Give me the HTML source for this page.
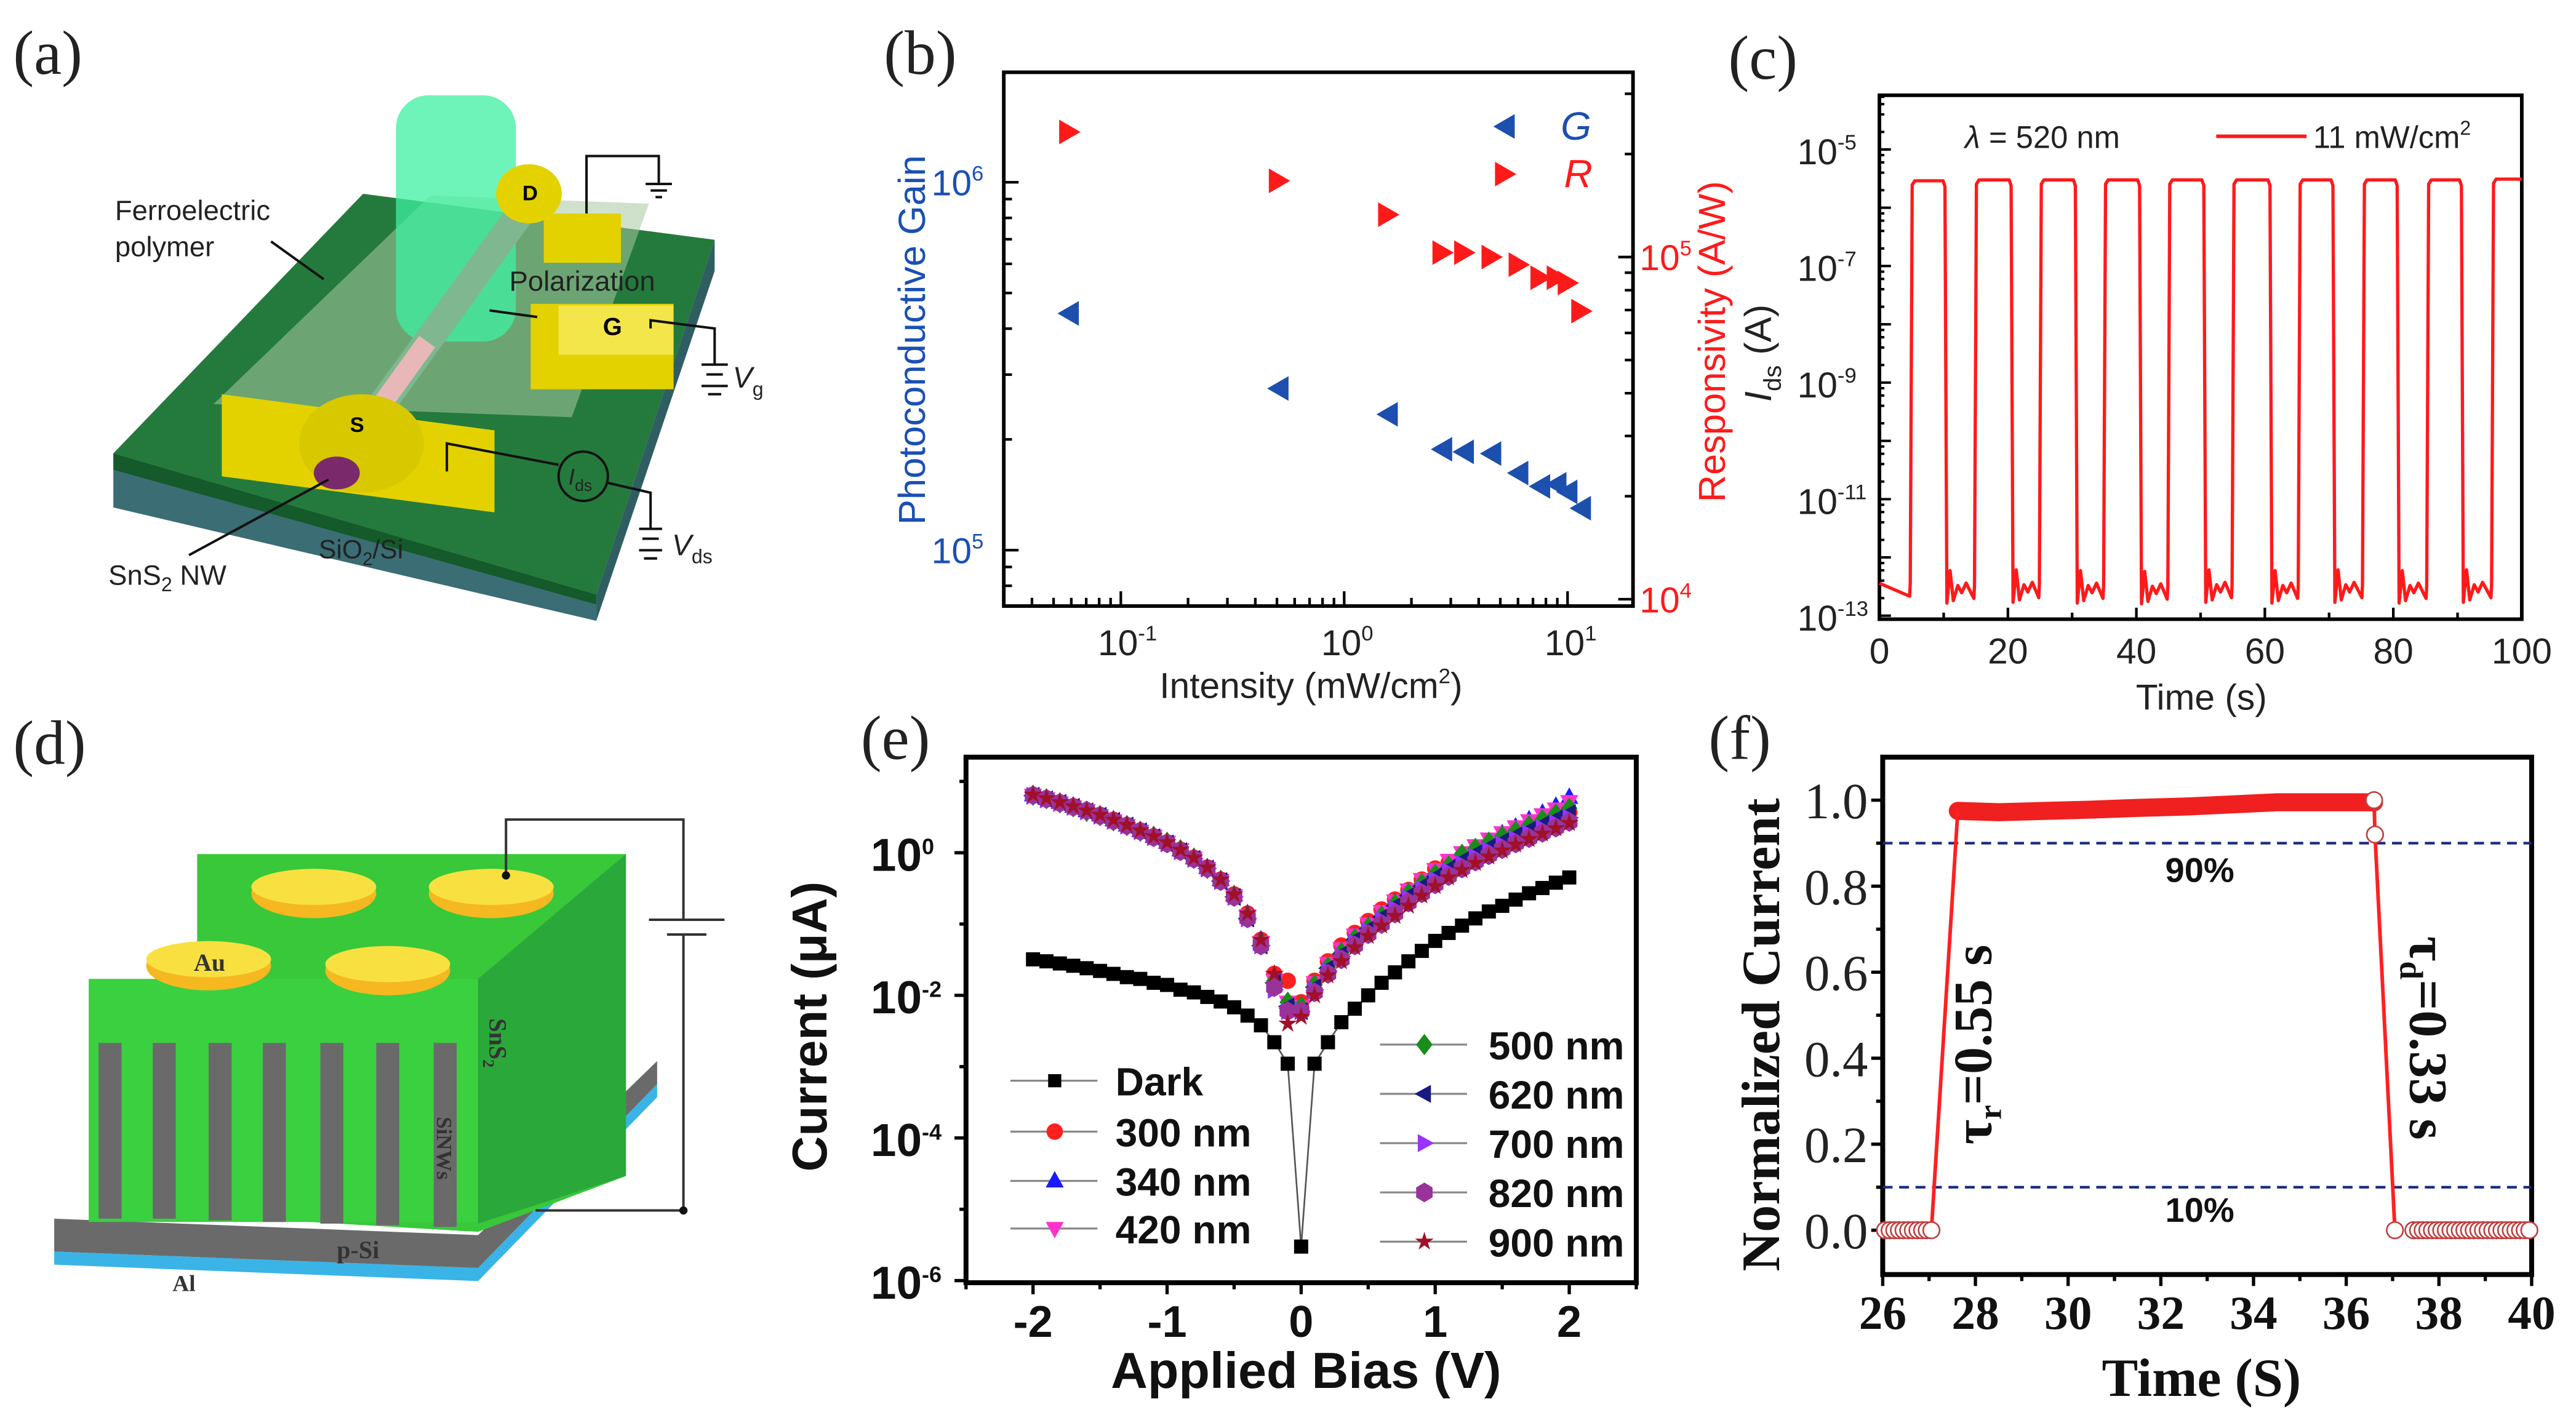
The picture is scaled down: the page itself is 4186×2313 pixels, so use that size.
<!DOCTYPE html>
<html><head><meta charset="utf-8">
<style>
html,body{margin:0;padding:0;background:#fff;}
svg{display:block;}
text{font-family:"Liberation Sans",sans-serif;}
.serif{font-family:"Liberation Serif",serif;}
</style></head>
<body>
<svg id="fig" xmlns="http://www.w3.org/2000/svg" width="4186" height="2313" viewBox="0 0 1568 866.4" preserveAspectRatio="none">
<rect x="0" y="0" width="1568" height="866.4" fill="#fff"/>
<g class="serif" font-size="38" fill="#222">
<text class="serif" x="8" y="45">(a)</text>
<text class="serif" x="538" y="45">(b)</text>
<text class="serif" x="1052" y="48">(c)</text>
<text class="serif" x="8" y="465">(d)</text>
<text class="serif" x="524" y="462">(e)</text>
<text class="serif" x="1040" y="462">(f)</text>
</g>

<g>
<polygon points="69,276 363,362 363,378 69,309" fill="#3a6d74"/>
<polygon points="69,276 363,362 363,368 69,286" fill="#145a2a"/>
<polygon points="363,362 435,146 435,165 363,378" fill="#2f5e62"/>
<polygon points="69,276 221,118 435,146 363,362" fill="#247a3c"/>
<polygon points="130,246 262,119 395,124 348,254" fill="#a8c8a0" opacity="0.55"/>
<rect x="241" y="58" width="73" height="150" rx="20" fill="#3df0a0" opacity="0.75"/>
<line x1="221" y1="262" x2="321" y2="124" stroke="#7fb890" stroke-width="17" stroke-linecap="round"/>
<line x1="221" y1="262" x2="260" y2="208" stroke="#e8b8b8" stroke-width="12"/>
<polygon points="331,130 378,130 378,160 331,160" fill="#e3d200"/>
<polygon points="323,185 410,185 410,237 323,237" fill="#e3d200"/>
<rect x="340" y="186" width="70" height="30" fill="#f2e64a"/>
<polygon points="135,240 301,262 301,312 135,290" fill="#e3d200"/>
<ellipse cx="220" cy="270" rx="38" ry="30" fill="#d8c800"/>
<ellipse cx="205" cy="288" rx="14" ry="10" fill="#7a2a6a"/>
<ellipse cx="322" cy="118" rx="20" ry="18" fill="#e3d200"/>
<text x="213" y="263" font-size="13" font-weight="bold">S</text>
<text x="318" y="122" font-size="13" font-weight="bold">D</text>
<text x="367" y="204" font-size="15" font-weight="bold">G</text>
<g fill="none" stroke="#111" stroke-width="1.5">
<polyline points="357,130 357,95 401,95 401,112"/>
<line x1="393" y1="112" x2="409" y2="112"/><line x1="396" y1="116" x2="406" y2="116"/><line x1="399" y1="120" x2="403" y2="120"/>
<polyline points="396,200 396,195 435,200 435,222"/>
<line x1="427" y1="222" x2="443" y2="222"/><line x1="430" y1="228" x2="440" y2="228"/><line x1="427" y1="235" x2="443" y2="235"/><line x1="431" y1="240" x2="439" y2="240"/>
<polyline points="272,287 272,270 340,283"/>
<circle cx="355" cy="290" r="15"/>
<polyline points="370,294 396,300 396,322"/>
<line x1="389" y1="322" x2="403" y2="322"/><line x1="391" y1="328" x2="401" y2="328"/><line x1="389" y1="335" x2="403" y2="335"/><line x1="392" y1="340" x2="400" y2="340"/>
<line x1="165" y1="147" x2="197" y2="170"/><line x1="298" y1="189" x2="327" y2="193"/><line x1="115" y1="338" x2="200" y2="292"/>
</g>
<text x="70" y="134" font-size="17" fill="#222">Ferroelectric</text>
<text x="70" y="156" font-size="17" fill="#222">polymer</text>
<text x="310" y="177" font-size="17" fill="#222">Polarization</text>
<text x="66" y="356" font-size="17" fill="#222">SnS<tspan font-size="12" dy="4">2</tspan><tspan dy="-4"> NW</tspan></text>
<text x="194" y="340" font-size="16" fill="#222">SiO<tspan font-size="11" dy="4">2</tspan><tspan dy="-4">/Si</tspan></text>
<text x="446" y="236" font-size="18" font-style="italic" fill="#222">V<tspan font-size="12" font-style="normal" dy="5">g</tspan></text>
<text x="409" y="338" font-size="18" font-style="italic" fill="#222">V<tspan font-size="12" font-style="normal" dy="5">ds</tspan></text>
<text x="346" y="295" font-size="14" font-style="italic" fill="#222">I<tspan font-size="10" font-style="normal" dy="4">ds</tspan></text>
</g>

<g>
<polygon points="33,762 291,772 400,660 400,668 291,780 33,770" fill="#3ab4e6"/>
<polygon points="33,742 291,752 400,646 400,660 291,772 33,762" fill="#6a6a6a"/>
<polygon points="120,520 381,520 381,716 291,750 120,740" fill="#38c83a"/>
<rect x="54" y="596" width="237" height="148" fill="#3ad040"/>
<polygon points="291,596 381,520 381,716 291,745" fill="#2aa83a"/>
<g fill="#6a6a6a">
<rect x="60" y="635" width="14" height="107"/><rect x="93" y="635" width="14" height="107"/><rect x="127" y="635" width="14" height="108"/><rect x="160" y="635" width="14" height="109"/><rect x="195" y="635" width="14" height="110"/><rect x="229" y="635" width="14" height="111"/><rect x="264" y="635" width="14" height="112"/>
</g>
<ellipse cx="191" cy="544" rx="38" ry="15" fill="#f5b820"/><ellipse cx="191" cy="540" rx="38" ry="11" fill="#f8e040"/>
<ellipse cx="299" cy="544" rx="38" ry="15" fill="#f5b820"/><ellipse cx="299" cy="540" rx="38" ry="11" fill="#f8e040"/>
<ellipse cx="127" cy="588" rx="38" ry="15" fill="#f5b820"/><ellipse cx="127" cy="584" rx="38" ry="11" fill="#f8e040"/>
<ellipse cx="236" cy="591" rx="38" ry="15" fill="#f5b820"/><ellipse cx="236" cy="587" rx="38" ry="11" fill="#f8e040"/>
<g fill="none" stroke="#333" stroke-width="1.5">
<polyline points="308,533 308,499 416,499 416,560"/><polyline points="416,569 416,737 326,737"/>
<line x1="395" y1="560" x2="441" y2="560"/><line x1="406" y1="569" x2="430" y2="569"/>
</g>
<circle cx="308" cy="533" r="2.5" fill="#111"/><circle cx="416" cy="737" r="2.5" fill="#111"/>
<text class="serif" x="118" y="591" font-size="15" font-weight="bold" fill="#333">Au</text>
<text class="serif" x="205" y="766" font-size="15" font-weight="bold" fill="#333">p-Si</text>
<text class="serif" x="105" y="786" font-size="14" font-weight="bold" fill="#333">Al</text>
<text class="serif" font-size="15" font-weight="bold" fill="#333" transform="translate(298,620) rotate(90)">SnS<tspan font-size="10" dy="4">2</tspan></text>
<text class="serif" font-size="13" font-weight="bold" fill="#333" transform="translate(266,680) rotate(90)">SiNWs</text>
</g>

<g id="pb"></g>
<g id="pc"></g>
<g id="pe"></g>
<g id="pf"></g>
</svg>
<script>
// ---------- data: panel b ----------
const bIntensity=[0.0586,0.509,1.57,2.75,3.44,4.56,6.03,7.55,8.93,10,11.5];
const bGain=[4.4e5,2.75e5,2.34e5,1.88e5,1.85e5,1.83e5,1.62e5,1.49e5,1.51e5,1.44e5,1.30e5];
const bResp=[2.32e5,1.67e5,1.33e5,1.03e5,1.03e5,1.0e5,9.5e4,8.7e4,8.7e4,8.4e4,6.95e4];
const bXTickExp=[-1,0,1];
const bGainTickExp=[5,6];
const bRespTickExp=[4,5];
// ---------- data: panel c ----------
const cRise=[4.8,14.8,24.9,34.9,44.9,54.9,65.2,75.2,85.2,95.3];
const cFall=[10.2,20.5,30.5,40.5,50.5,60.8,70.6,80.6,90.6];
const cHigh=[2.9e-6,3.0e-6,3.0e-6,3.0e-6,3.0e-6,3.0e-6,3.0e-6,3.0e-6,3.0e-6,3.1e-6];
const cLow=[3.6e-13,3.3e-13,3.4e-13,3.3e-13,3.2e-13,3.4e-13,3.3e-13,3.4e-13,3.3e-13,3.4e-13];
const cXTicks=[0,20,40,60,80,100];
const cYTickExp=[-5,-7,-9,-11,-13];
// ---------- data: panel e ----------
const eBias=[-2,-1.9,-1.8,-1.7,-1.6,-1.5,-1.4,-1.3,-1.2,-1.1,-1,-0.9,-0.8,-0.7,-0.6,-0.5,-0.4,-0.3,-0.2,-0.1,0,0.1,0.2,0.3,0.4,0.5,0.6,0.7,0.8,0.9,1,1.1,1.2,1.3,1.4,1.5,1.6,1.7,1.8,1.9,2];
const eDark=[0.032,0.030,0.028,0.026,0.024,0.022,0.020,0.018,0.017,0.015,0.014,0.012,0.011,0.0095,0.0082,0.0068,0.0052,0.0038,0.0022,0.0011,3e-6,0.0011,0.0022,0.0042,0.0065,0.010,0.015,0.021,0.030,0.042,0.058,0.075,0.095,0.12,0.15,0.18,0.22,0.27,0.32,0.38,0.45];
const e300=[6.5,5.8,5.1,4.5,3.9,3.4,2.9,2.45,2.05,1.7,1.4,1.1,0.85,0.62,0.42,0.26,0.14,0.06,0.02,0.016,0.008,0.016,0.03,0.05,0.075,0.11,0.16,0.22,0.3,0.42,0.6,0.72,0.88,1.05,1.25,1.5,1.8,2.15,2.6,3.1,3.7];
const e340=[6.5,5.8,5.1,4.5,3.9,3.4,2.9,2.45,2.05,1.7,1.4,1.1,0.85,0.62,0.42,0.26,0.14,0.06,0.018,0.008,0.007,0.014,0.026,0.042,0.065,0.095,0.14,0.2,0.28,0.38,0.52,0.7,0.9,1.15,1.45,1.85,2.3,2.9,3.6,4.5,6.0];
const e420=[6.4,5.7,5.0,4.4,3.9,3.3,2.8,2.4,2.0,1.7,1.4,1.1,0.84,0.6,0.41,0.25,0.13,0.055,0.016,0.008,0.007,0.015,0.028,0.045,0.07,0.1,0.15,0.21,0.3,0.42,0.58,0.78,1.0,1.25,1.55,1.9,2.3,2.8,3.4,4.1,5.2];
const e500=[6.4,5.7,5.0,4.4,3.8,3.3,2.8,2.4,2.0,1.7,1.4,1.1,0.84,0.6,0.41,0.25,0.13,0.055,0.016,0.008,0.007,0.014,0.025,0.04,0.062,0.09,0.13,0.19,0.27,0.37,0.5,0.65,0.95,1.15,1.4,1.7,2.0,2.4,2.9,3.5,4.2];
const e620=[6.3,5.6,5.0,4.4,3.8,3.3,2.8,2.4,2.0,1.65,1.35,1.05,0.82,0.6,0.4,0.24,0.12,0.05,0.015,0.007,0.006,0.013,0.024,0.038,0.06,0.085,0.125,0.18,0.25,0.34,0.46,0.6,0.78,0.98,1.2,1.45,1.75,2.1,2.5,3.0,3.6];
const e700=[6.3,5.6,5.0,4.4,3.8,3.3,2.8,2.4,2.0,1.65,1.35,1.05,0.82,0.6,0.4,0.24,0.12,0.05,0.012,0.006,0.006,0.012,0.022,0.035,0.055,0.08,0.115,0.165,0.23,0.31,0.42,0.55,0.7,0.88,1.08,1.3,1.55,1.85,2.2,2.6,3.1];
const e820=[6.4,5.7,5.0,4.4,3.9,3.3,2.8,2.4,2.0,1.65,1.35,1.05,0.82,0.6,0.4,0.24,0.12,0.05,0.013,0.006,0.006,0.011,0.02,0.032,0.05,0.072,0.1,0.14,0.2,0.27,0.36,0.47,0.6,0.75,0.92,1.12,1.35,1.6,1.9,2.25,2.7];
const e900=[6.5,5.8,5.1,4.5,3.9,3.4,2.9,2.45,2.05,1.7,1.4,1.1,0.85,0.62,0.42,0.26,0.14,0.06,0.02,0.004,0.005,0.01,0.019,0.03,0.047,0.068,0.095,0.13,0.18,0.25,0.34,0.45,0.57,0.72,0.88,1.07,1.3,1.55,1.85,2.2,2.6];
const eXTicks=[-2,-1,0,1,2];
const eYTickExp=[0,-2,-4,-6];
const eLabels=['Dark','300 nm','340 nm','420 nm','500 nm','620 nm','700 nm','820 nm','900 nm'];
// ---------- data: panel f ----------
const fOffBefore=[26.05,26.15,26.25,26.35,26.45,26.55,26.65,26.75,26.85,26.95,27.05];
const fRiseX=[27.05,27.62];
const fRiseY=[0.0,0.975];
const fOnX=[27.62,28.5,29.5,30.5,31.5,32.5,33.5,34.5,35.5,36.6];
const fOnY=[0.975,0.972,0.975,0.978,0.982,0.985,0.99,0.995,0.995,0.995];
const fFallX=[36.6,36.62,37.05];
const fFallY=[1.0,0.92,0.0];
const fOffAfter=[37.05,37.45,37.55,37.65,37.75,37.85,37.95,38.05,38.15,38.25,38.35,38.45,38.55,38.65,38.75,38.85,38.95,39.05,39.15,39.25,39.35,39.45,39.55,39.65,39.75,39.85,39.95];
const fXTicks=[26,28,30,32,34,36,38,40];
const fYTicks=[0.0,0.2,0.4,0.6,0.8,1.0];
const fRefLines=[0.9,0.1];

const NS='http://www.w3.org/2000/svg';
function mk(tag,attrs,parent){const e=document.createElementNS(NS,tag);for(const k in attrs)e.setAttribute(k,attrs[k]);parent.appendChild(e);return e;}
function txt(parent,x,y,s,attrs){const t=mk('text',Object.assign({x:x,y:y},attrs||{}),parent);t.textContent=s;return t;}
function pow10(parent,x,y,exp,attrs,sup){const t=mk('text',Object.assign({x:x,y:y},attrs),parent);t.textContent='10';const s=mk('tspan',{dy:-(sup||9),'font-size':(sup?sup*1.35:13)},t);s.textContent=String(exp);return t;}
const L10=Math.log10;

// ================= PANEL B =================
(function(){
const g=document.getElementById('pb');
const x0=611,x1=994,y0=44,y1=369;
const xS=v=>x0+(L10(v)+1.524)/(1.293+1.524)*(x1-x0);
const gS=v=>y0+(6.299-L10(v))/(6.299-4.848)*(y1-y0);
const rS=v=>y0+(5.54-L10(v))/(5.54-3.98)*(y1-y0);
const fr=mk('rect',{x:x0,y:y0,width:x1-x0,height:y1-y0,fill:'none',stroke:'#000','stroke-width':2.2},g);


for(let e=-2;e<=1;e++)for(let m=1;m<10;m++){const v=m*Math.pow(10,e);const lv=L10(v);if(lv<-1.524||lv>1.293)continue;const x=xS(v);const len=m===1?9:5;mk('line',{x1:x,y1:y1,x2:x,y2:y1-len,stroke:'#000','stroke-width':1.6},g);}
bXTickExp.forEach(e=>{const t=pow10(g,xS(Math.pow(10,e))-14,y1+30,e,{'font-size':22,fill:'#222'});});
for(let e=4;e<=6;e++)for(let m=1;m<10;m++){const v=m*Math.pow(10,e);const lv=L10(v);if(lv<4.848||lv>6.299)continue;const y=gS(v);mk('line',{x1:x0,y1:y,x2:x0+(m===1?9:5),y2:y,stroke:'#000','stroke-width':1.6},g);}
bGainTickExp.forEach(e=>{const t=pow10(g,x0-44,gS(Math.pow(10,e))+8,e,{'font-size':22,fill:'#1a4fb5'});});
for(let e=3;e<=5;e++)for(let m=1;m<10;m++){const v=m*Math.pow(10,e);const lv=L10(v);if(lv<3.98||lv>5.54)continue;const y=rS(v);mk('line',{x1:x1,y1:y,x2:x1-(m===1?9:5),y2:y,stroke:'#000','stroke-width':1.6},g);}
bRespTickExp.forEach(e=>{const t=pow10(g,x1+4,rS(Math.pow(10,e))+8,e,{'font-size':22,fill:'#ff1a1a'});});
bIntensity.forEach((v,i)=>{const x=xS(v),y=gS(bGain[i]);const p=mk('path',{d:`M${x-7},${y} L${x+6},${y-7.5} L${x+6},${y+7.5} Z`,fill:'#1c4fae'},g);});
bIntensity.forEach((v,i)=>{const x=xS(v),y=rS(bResp[i]);const p=mk('path',{d:`M${x+7},${y} L${x-6},${y-7.5} L${x-6},${y+7.5} Z`,fill:'#ff1a1a'},g);});
const lg=mk('g',{},g);
mk('path',{d:'M909,77 L922,69.5 L922,84.5 Z',fill:'#1c4fae'},lg);
txt(lg,950,85,'G',{'font-size':24,'font-style':'italic',fill:'#1c4fae'});
mk('path',{d:'M923,106 L910,98.5 L910,113.5 Z',fill:'#ff1a1a'},lg);
txt(lg,952,114,'R',{'font-size':24,'font-style':'italic',fill:'#ff1a1a'});
let t=txt(g,0,0,'Photoconductive Gain',{'font-size':23,fill:'#1a4fb5','text-anchor':'middle',transform:'translate(563,207) rotate(-90)'});
t=txt(g,0,0,'Responsivity (A/W)',{'font-size':23,fill:'#ff1a1a','text-anchor':'middle',transform:'translate(1050,208) rotate(-90)'});
t=mk('text',{x:798,y:425,'font-size':22,fill:'#222','text-anchor':'middle'},g);t.innerHTML='Intensity (mW/cm<tspan dy="-9" font-size="13">2</tspan><tspan dy="9">)</tspan>';
})();

// ================= PANEL C =================
(function(){
const g=document.getElementById('pc');
const x0=1144,x1=1535,y0=58,y1=377;
const xS=v=>x0+v/100*(x1-x0);
const yS=v=>y0+(-4.07-L10(v))/(-4.07+13.06)*(y1-y0);
const fr=mk('rect',{x:x0,y:y0,width:x1-x0,height:y1-y0,fill:'none',stroke:'#000','stroke-width':2.2},g);


for(let v=0;v<=100;v+=10){const x=xS(v);mk('line',{x1:x,y1:y1,x2:x,y2:y1-(v%20===0?7:4),stroke:'#000','stroke-width':1.6},g);}
cXTicks.forEach(v=>{const t=txt(g,xS(v),y1+27,String(v),{'font-size':22,fill:'#222','text-anchor':'middle'});});
for(let e=-13;e<=-5;e++){for(let m=1;m<10;m+=(m===1?1:2)){const v=m*Math.pow(10,e);if(L10(v)>-4.07)continue;const y=yS(v);mk('line',{x1:x0,y1:y,x2:x0+(m===1?7:3),y2:y,stroke:'#000','stroke-width':1.5},g);}}
cYTickExp.forEach(e=>{const t=pow10(g,x0-50,yS(Math.pow(10,e))+9,e,{'font-size':22,fill:'#222'});});
let d='M'+xS(0)+','+yS(cLow[0]);
for(let i=0;i<cRise.length;i++){
 d+=' L'+xS(cRise[i]-0.1)+','+yS(cLow[i]*0.6)+' L'+xS(cRise[i])+','+yS(cLow[i])+' L'+xS(cRise[i]+0.3)+','+yS(cHigh[i]*0.85)+' L'+xS(cRise[i]+0.7)+','+yS(cHigh[i]);
 if(i<cFall.length){
  d+=' L'+xS(cFall[i]-0.3)+','+yS(cHigh[i])+' L'+xS(cFall[i])+','+yS(cHigh[i]*0.8)+' L'+xS(cFall[i]+0.3)+','+yS(cLow[i+1]*0.5)+' L'+xS(cFall[i]+0.8)+','+yS(cLow[i+1]*1.8)+' L'+xS(cFall[i]+1.3)+','+yS(cLow[i+1]*0.55)+' L'+xS(cFall[i]+2)+','+yS(cLow[i+1])+' L'+xS(cFall[i]+2.6)+','+yS(cLow[i+1]*0.75)+' L'+xS(cFall[i]+3.3)+','+yS(cLow[i+1]*1.1);
 } else { d+=' L'+xS(100)+','+yS(cHigh[i]); }
}
const p=mk('path',{d:d,fill:'none',stroke:'#ff1a1a','stroke-width':2,'stroke-linejoin':'round'},g);


const lg=mk('g',{},g);
const lam=mk('text',{x:1196,y:90,'font-size':19,fill:'#222'},lg);lam.innerHTML='<tspan font-style="italic">λ</tspan> = 520 nm';
mk('line',{x1:1349,y1:83,x2:1404,y2:83,stroke:'#ff1a1a','stroke-width':2.2},lg);
const lt=mk('text',{x:1408,y:90,'font-size':19,fill:'#222'},lg);lt.innerHTML='11 mW/cm<tspan dy="-8" font-size="12">2</tspan>';
let t=mk('text',{'font-size':23,fill:'#222','text-anchor':'middle',transform:'translate(1078,215) rotate(-90)'},g);
t.innerHTML='<tspan font-style="italic">I</tspan><tspan font-size="15" dy="6">ds</tspan><tspan dy="-6"> (A)</tspan>';

t=txt(g,1340,432,'Time (s)',{'font-size':22,fill:'#222','text-anchor':'middle'});
})();

// ================= PANEL E =================
(function(){
const g=document.getElementById('pe');
const x0=588,x1=996,y0=461,y1=781;
const xS=v=>x0+(v+2.5)/5*(x1-x0);
const yS=v=>y0+(1.34-L10(v))/(1.34+6.03)*(y1-y0);
const fr=mk('rect',{x:x0,y:y0,width:x1-x0,height:y1-y0,fill:'none',stroke:'#000','stroke-width':3},g);


for(let v=-2.5;v<=2.5001;v+=0.5){const x=xS(v);mk('line',{x1:x,y1:y1,x2:x,y2:y1+(Math.abs(v%1)<1e-6?7:4),stroke:'#000','stroke-width':2},g);}
eXTicks.forEach(v=>{const t=txt(g,xS(v),y1+33,String(v),{'font-size':27,'font-weight':'bold',fill:'#111','text-anchor':'middle'});});
for(let e=-6;e<=1;e++){const y=yS(Math.pow(10,e));mk('line',{x1:x0,y1:y,x2:x0-(e%2===0?7:4),y2:y,stroke:'#000','stroke-width':2},g);}
eYTickExp.forEach(e=>{const t=pow10(g,x0-58,yS(Math.pow(10,e))+11,e,{'font-size':28,'font-weight':'bold',fill:'#111'},10);});
function marker(par,shape,x,y,c,r){
 if(shape==='sq')return mk('rect',{x:x-r,y:y-r,width:2*r,height:2*r,fill:c},par);
 if(shape==='ci')return mk('circle',{cx:x,cy:y,r:r,fill:c},par);
 if(shape==='up')return mk('path',{d:`M${x},${y-r*1.2} L${x+r*1.1},${y+r*0.8} L${x-r*1.1},${y+r*0.8} Z`,fill:c},par);
 if(shape==='dn')return mk('path',{d:`M${x},${y+r*1.2} L${x+r*1.1},${y-r*0.8} L${x-r*1.1},${y-r*0.8} Z`,fill:c},par);
 if(shape==='di')return mk('path',{d:`M${x},${y-r*1.3} L${x+r},${y} L${x},${y+r*1.3} L${x-r},${y} Z`,fill:c},par);
 if(shape==='lt')return mk('path',{d:`M${x-r*1.2},${y} L${x+r*0.8},${y-r*1.1} L${x+r*0.8},${y+r*1.1} Z`,fill:c},par);
 if(shape==='rt')return mk('path',{d:`M${x+r*1.2},${y} L${x-r*0.8},${y-r*1.1} L${x-r*0.8},${y+r*1.1} Z`,fill:c},par);
 if(shape==='hx')return mk('path',{d:`M${x-r},${y-r*0.6} L${x},${y-r*1.2} L${x+r},${y-r*0.6} L${x+r},${y+r*0.6} L${x},${y+r*1.2} L${x-r},${y+r*0.6} Z`,fill:c},par);
 let s='';for(let k=0;k<10;k++){const a=-Math.PI/2+k*Math.PI/5;const rr=k%2?r*0.45:r*1.2;s+=(k?'L':'M')+(x+rr*Math.cos(a))+','+(y+rr*Math.sin(a));}
 return mk('path',{d:s+'Z',fill:c},par);
}
const series=[
 {name:'300 nm',data:e300,shape:'ci',color:'#ff2020'},
 {name:'340 nm',data:e340,shape:'up',color:'#1a1aff'},
 {name:'420 nm',data:e420,shape:'dn',color:'#ff33cc'},
 {name:'500 nm',data:e500,shape:'di',color:'#1a8c1a'},
 {name:'620 nm',data:e620,shape:'lt',color:'#1a1a80'},
 {name:'700 nm',data:e700,shape:'rt',color:'#9933ff'},
 {name:'820 nm',data:e820,shape:'hx',color:'#993399'},
 {name:'900 nm',data:e900,shape:'st',color:'#a0102a'}
];
const dg=mk('g',{},g);
mk('polyline',{points:eBias.map((v,i)=>xS(v)+','+yS(eDark[i])).join(' '),fill:'none',stroke:'#555','stroke-width':1},dg);
eBias.forEach((v,i)=>{const m=marker(dg,'sq',xS(v),yS(eDark[i]),'#000',4.3);});
series.forEach(s=>{
 const sg=mk('g',{},g);
 
 
 eBias.forEach((v,i)=>{const m=marker(sg,s.shape,xS(v),yS(s.data[i]),s.color,5);});
});
const lg=mk('g',{},g);
const leftRows=[658,689,719,748],rightRows=[636,666,696,726,756];
const all=[{shape:'sq',color:'#000'}].concat(series);
all.forEach((s,i)=>{
 let lx,ly;if(i<4){lx=615;ly=leftRows[i];}else{lx=840;ly=rightRows[i-4];}
 const e=mk('g',{},lg);
 
 
 mk('line',{x1:lx,y1:ly,x2:lx+53,y2:ly,stroke:'#888','stroke-width':1.2},e);
 marker(e,s.shape,lx+27,ly,s.color,s.shape==='sq'?4:5);
 txt(e,lx+(i<4?64:66),ly+9,eLabels[i],{'font-size':24,'font-weight':'bold',fill:'#111'});
});
let t=mk('text',{'font-size':30,'font-weight':'bold',fill:'#111','text-anchor':'middle',transform:'translate(503,625) rotate(-90)'},g);
t.textContent='Current (μA)';

t=txt(g,795,845,'Applied Bias (V)',{'font-size':31,'font-weight':'bold',fill:'#111','text-anchor':'middle'});

})();

// ================= PANEL F =================
(function(){
const g=document.getElementById('pf');
const x0=1146,x1=1541,y0=461,y1=776;
const xS=v=>x0+(v-26)/14*(x1-x0);
const yS=v=>y0+(1.10-v)/(1.10+0.103)*(y1-y0);
const fr=mk('rect',{x:x0,y:y0,width:x1-x0,height:y1-y0,fill:'none',stroke:'#000','stroke-width':3},g);


for(let v=26;v<=40;v+=1){const x=xS(v);mk('line',{x1:x,y1:y1,x2:x,y2:y1+(v%2===0?7:4),stroke:'#000','stroke-width':2},g);}
fXTicks.forEach(v=>{const t=txt(g,xS(v),y1+33,String(v),{'font-size':29,'font-weight':'bold',fill:'#111','text-anchor':'middle',class:'serif'});});
for(let v=0;v<=1.0001;v+=0.1){const y=yS(v);mk('line',{x1:x0,y1:y,x2:x0-(Math.round(v*10)%2===0?7:4),y2:y,stroke:'#000','stroke-width':2},g);}
fYTicks.forEach(v=>{const t=txt(g,x0-9,yS(v)+11,v.toFixed(1),{'font-size':31,fill:'#222','text-anchor':'end',class:'serif'});});
fRefLines.forEach(v=>{const l=mk('line',{x1:x0,y1:yS(v),x2:x1,y2:yS(v),stroke:'#1a2a80','stroke-width':1.6,'stroke-dasharray':'6,4'},g);});
const band=mk('polyline',{points:fOnX.map((v,i)=>xS(v)+','+yS(fOnY[i])).join(' '),fill:'none',stroke:'#f02020','stroke-width':11,'stroke-linejoin':'round','stroke-linecap':'round'},g);

const rise=mk('polyline',{points:fRiseX.map((v,i)=>xS(v)+','+yS(fRiseY[i])).join(' '),fill:'none',stroke:'#ff2020','stroke-width':2.2},g);

const fall=mk('polyline',{points:fFallX.map((v,i)=>xS(v)+','+yS(fFallY[i])).join(' '),fill:'none',stroke:'#ff2020','stroke-width':2.2},g);

fOffBefore.concat(fOffAfter).forEach(v=>{const c=mk('circle',{cx:xS(v),cy:yS(0),r:5,fill:'#fff',stroke:'#c04040','stroke-width':1},g);});
[[36.6,1.0],[36.62,0.92]].forEach(p=>{const c=mk('circle',{cx:xS(p[0]),cy:yS(p[1]),r:5,fill:'#fff',stroke:'#c04040','stroke-width':1},g);});
txt(g,1339,537,'90%',{'font-size':21,'font-weight':'bold',fill:'#111','text-anchor':'middle'});
txt(g,1339,744,'10%',{'font-size':21,'font-weight':'bold',fill:'#111','text-anchor':'middle'});
let t=mk('text',{'font-size':33,'font-weight':'bold',fill:'#111','text-anchor':'middle',class:'serif',transform:'translate(1212,636) rotate(-90)'},g);
t.innerHTML='τ<tspan font-size="20" dy="6">r</tspan><tspan dy="-6">=0.55 s</tspan>';

t=mk('text',{'font-size':33,'font-weight':'bold',fill:'#111','text-anchor':'middle',class:'serif',transform:'translate(1467,632) rotate(90)'},g);
t.innerHTML='τ<tspan font-size="20" dy="6">d</tspan><tspan dy="-6">=0.33 s</tspan>';

t=mk('text',{'font-size':33,'font-weight':'bold',fill:'#111','text-anchor':'middle',class:'serif',transform:'translate(1083,630) rotate(-90)'},g);
t.textContent='Normalized Current';

t=txt(g,1340,850,'Time (S)',{'font-size':33,'font-weight':'bold',fill:'#111','text-anchor':'middle',class:'serif'});

})();
</script>
</body></html>
